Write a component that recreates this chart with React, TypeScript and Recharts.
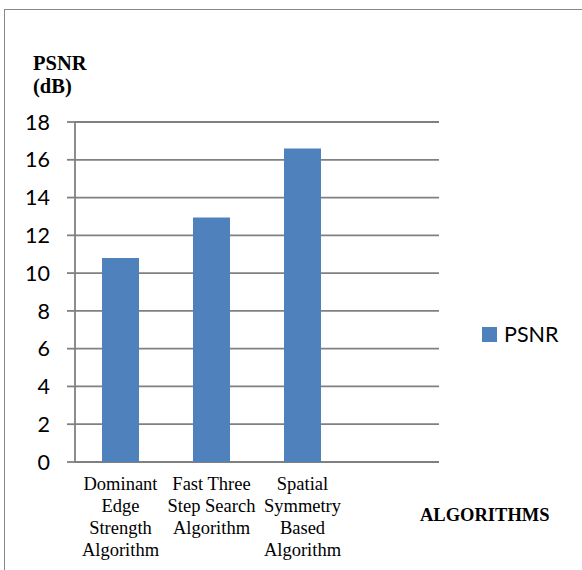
import { BarChart, Bar, XAxis, YAxis, CartesianGrid, Legend } from 'recharts';

const categories = [
  'Dominant\nEdge\nStrength\nAlgorithm',
  'Fast Three\nStep Search\nAlgorithm',
  'Spatial\nSymmetry\nBased\nAlgorithm',
  '',
];
const psnrValues = [10.8, 12.95, 16.6, null];
const yTicks = [0, 2, 4, 6, 8, 10, 12, 14, 16, 18];
const edgeTicks = [0, 1, 2, 3, 4];

const data = categories.map((name, i) => ({ name, PSNR: psnrValues[i] }));

const GRID = '#808080';
const BAR = '#4F81BD';
const SANS = 'Lato, "Open Sans", sans-serif';
const SERIF = '"Liberation Serif", "Times New Roman", serif';

// multi-line serif category labels under each bar
function CategoryTick(props: any) {
  const { x, y, payload } = props;
  const lines = String(payload.value).split('\n').filter((l) => l);
  return (
    <text x={x} y={y} textAnchor="middle" fontFamily={SERIF} fontSize={18.5} fill="#000">
      {lines.map((line, i) => (
        <tspan key={i} x={x} dy={i === 0 ? 28 : 22}>
          {line}
        </tspan>
      ))}
    </text>
  );
}

function YTitle() {
  return (
    <text fontFamily={SERIF} fontSize={20.5} fontWeight="bold" fill="#000">
      <tspan x={33} y={70}>PSNR</tspan>
      <tspan x={33} y={93}>(dB)</tspan>
    </text>
  );
}

function XTitle() {
  return (
    <text x={420} y={521} fontFamily={SERIF} fontSize={18.5} fontWeight="bold" fill="#000">
      ALGORITHMS
    </text>
  );
}

function LegendBox() {
  return (
    <div style={{ display: 'flex', alignItems: 'center', fontFamily: SANS, fontSize: 21.5, color: '#000' }}>
      <span style={{ width: 15, height: 15, background: BAR, display: 'inline-block', marginRight: 7 }} />
      <span>PSNR</span>
    </div>
  );
}

export default function App() {
  return (
    <div style={{ position: 'absolute', left: 0, top: 0, width: 582, height: 570, background: '#fff' }}>
      <div
        style={{
          position: 'absolute',
          left: 4,
          top: 9,
          right: 0,
          bottom: 0,
          borderTop: '1.5px solid #888',
          borderLeft: '1.5px solid #888',
        }}
      />
      <BarChart
        width={582}
        height={570}
        data={data}
        margin={{ top: 122, right: 143, left: 0, bottom: 0 }}
        barSize={37}
      >
        <CartesianGrid vertical={false} stroke={GRID} strokeWidth={1.8} />
        <XAxis
          xAxisId="edges"
          type="number"
          domain={[0, 4]}
          ticks={edgeTicks}
          height={0}
          tick={() => <g />}
          tickSize={5}
          axisLine={{ stroke: GRID, strokeWidth: 1.8 }}
          tickLine={{ stroke: GRID, strokeWidth: 1.8 }}
        />
        <XAxis
          dataKey="name"
          height={108}
          interval={0}
          axisLine={false}
          tickLine={false}
          tickSize={0}
          tickMargin={0}
          tick={<CategoryTick />}
          label={<XTitle />}
        />
        <YAxis
          width={75}
          domain={[0, 18]}
          ticks={yTicks}
          interval={0}
          tickSize={8}
          tickMargin={17}
          axisLine={{ stroke: GRID, strokeWidth: 1.8 }}
          tickLine={{ stroke: GRID, strokeWidth: 1.8 }}
          tick={{ fontFamily: SANS, fontSize: 21.5, fill: '#000' }}
          label={<YTitle />}
        />
        <Legend
          layout="horizontal"
          verticalAlign="middle"
          align="center"
          wrapperStyle={{ left: 482, top: 321, width: 'auto' }}
          content={() => <LegendBox />}
        />
        <Bar dataKey="PSNR" fill={BAR} isAnimationActive={false} />
      </BarChart>
    </div>
  );
}
